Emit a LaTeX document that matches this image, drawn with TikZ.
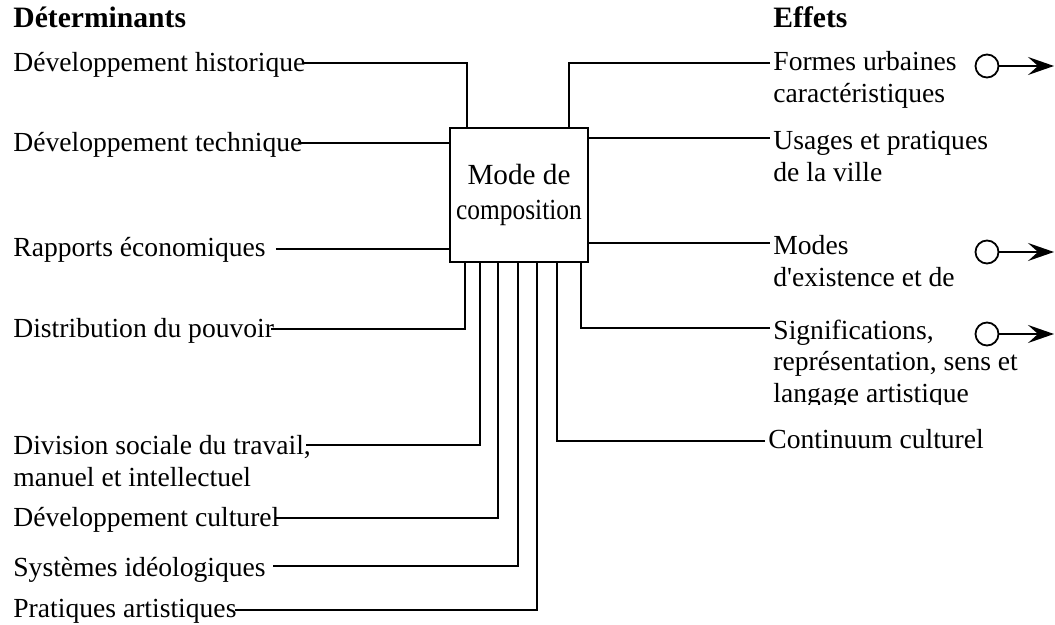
\documentclass[tikz,border=0pt]{standalone}
\usepackage{fontspec}
\setmainfont{Liberation Serif}
\usetikzlibrary{arrows.meta}

\begin{document}
\begin{tikzpicture}
[x=0.5pt,y=-0.5pt,
txt/.style={anchor=base west,inner sep=0pt,font=\fontsize{13.8}{16}\selectfont,align=left},
hdr/.style={anchor=base west,inner sep=0pt,font=\fontsize{14.8}{17}\selectfont\bfseries},
boite/.style={rectangle,draw=black,line width=1pt,minimum width=69pt,minimum height=67pt,inner sep=0pt,align=center,font=\fontsize{14.6}{17.5}\selectfont},
rond/.style={circle,draw=black,line width=0.9pt,minimum size=11.5pt,inner sep=0pt},
wire/.style={draw=black,line width=1pt},
fleche/.style={wire,-{Stealth[length=13pt,width=9pt,inset=5pt]}}]
\useasboundingbox (0,0) rectangle (1055,625);

\node at (519,195) [boite] (mode) {Mode de\\\scalebox{0.87}[1]{composition}};

\node at (13,28)  [hdr] (det)  {Déterminants};
\node at (773,28) [hdr] (eff)  {Effets};

% determinants (base = derniere ligne)
\node at (13,72)  [txt] (hist) {Développement historique};
\node at (13,152) [txt] (tech) {Développement technique};
\node at (13,257) [txt] (eco)  {Rapports économiques};
\node at (13,338) [txt] (pouv) {Distribution du pouvoir};
\node at (13,487) [txt] (divi) {Division sociale du travail,\\manuel et intellectuel};
\node at (13,526) [txt] (cult) {Développement culturel};
\node at (13,576) [txt] (ideo) {Systèmes idéologiques};
\node at (13,617) [txt] (prat) {Pratiques artistiques};

% effets
\node at (773,103) [txt] (form) {Formes urbaines\\caractéristiques};
\node at (773,182) [txt] (usag) {Usages et pratiques\\de la ville};
\node at (773,287) [txt] (exis) {Modes\\d\textquotesingle existence et de};
\begin{scope}
\clip (760,300) rectangle (1055,405);
\node at (773,403) [txt] (sign) {Significations,\\représentation, sens et\\langage artistique};
\end{scope}
\node at (768,449) [txt] (cont) {Continuum culturel};

% connecteurs gauche
\coordinate (ph) at ([shift={(-2,-9)}]hist.base east);
\coordinate (pt) at ([shift={(-5,-9)}]tech.base east);
\coordinate (pe) at ([shift={(10,-8)}]eco.base east);
\coordinate (pp) at ([shift={(-3,-9)}]pouv.base east);
\coordinate (pd) at ([shift={(-5,-42)}]divi.base east);
\coordinate (pc) at ([shift={(-5,-8)}]cult.base east);
\coordinate (pi) at ([shift={(7,-10)}]ideo.base east);
\coordinate (pa) at ([shift={(-2,-7)}]prat.base east);
\draw [wire] (ph) -| ([shift={(18,0)}]mode.north west);
\draw [wire] (pt) -- (pt -| mode.west);
\draw [wire] (pe) -- (pe -| mode.west);
\draw [wire] (pp) -| ([shift={(16,0)}]mode.south west);
\draw [wire] (pd) -| ([shift={(31,0)}]mode.south west);
\draw [wire] (pc) -| ([shift={(49,0)}]mode.south west);
\draw [wire] (pi) -| ([shift={(69,0)}]mode.south west);
\draw [wire] (pa) -| ([shift={(88,0)}]mode.south west);

% connecteurs droite
\coordinate (qf) at ([shift={(-3,-40)}]form.base west);
\coordinate (qu) at ([shift={(-3,-44)}]usag.base west);
\coordinate (qe) at ([shift={(-3,-44)}]exis.base west);
\coordinate (qs) at ([shift={(-3,-75)}]sign.base west);
\coordinate (qc) at ([shift={(-3,-8)}]cont.base west);
\draw [wire] (qf) -| ([shift={(-20,0)}]mode.north east);
\draw [wire] (mode.east |- qu) -- (qu);
\draw [wire] (mode.east |- qe) -- (qe);
\draw [wire] (qs) -| ([shift={(-8,0)}]mode.south east);
\draw [wire] (qc) -| ([shift={(108,0)}]mode.south west);

% sorties
\node at (987,66)  [rond] (o1) {};
\node at (987,252) [rond] (o2) {};
\node at (987,334) [rond] (o3) {};
\coordinate (a1) at (1054,66);
\coordinate (a2) at (1054,252);
\coordinate (a3) at (1054,334);
\draw [fleche] (o1) -- (a1);
\draw [fleche] (o2) -- (a2);
\draw [fleche] (o3) -- (a3);
\end{tikzpicture}
\end{document}
